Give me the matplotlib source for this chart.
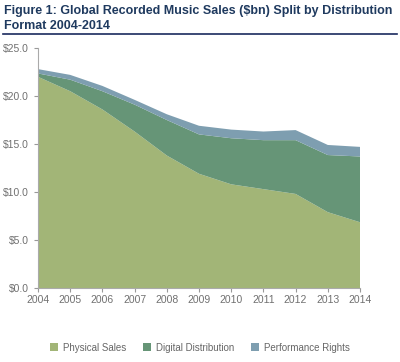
import numpy as np
import matplotlib.pyplot as plt
from matplotlib.lines import Line2D
from matplotlib.patches import Patch

plt.rcParams['font.family'] = ['Liberation Sans', 'DejaVu Sans']

years = [2004, 2005, 2006, 2007, 2008, 2009, 2010, 2011, 2012, 2013, 2014]
physical = [22.0, 20.5, 18.6, 16.3, 13.8, 11.9, 10.8, 10.3, 9.8, 7.9, 6.85]
digital = [0.35, 1.2, 1.9, 2.8, 3.7, 4.1, 4.8, 5.1, 5.6, 5.95, 6.85]
performance = [0.45, 0.5, 0.55, 0.5, 0.6, 0.9, 0.9, 0.9, 1.05, 1.05, 1.0]
series_names = ['Physical Sales', 'Digital Distribution', 'Performance Rights']
colors = ['#a2b577', '#669577', '#7e9eb0']

fig = plt.figure(figsize=(4.0, 3.62), dpi=100)
ax = fig.add_axes([0.095, 0.2044, 0.805, 0.663])

ax.stackplot(years, physical, digital, performance, colors=colors, linewidth=0)

ax.set_xlim(2004, 2014)
ax.set_ylim(0, 25)
ax.set_xticks(years)
ax.set_yticks(np.arange(0, 26, 5))
ax.set_yticklabels(['$%.1f' % v for v in np.arange(0, 26, 5)])
ax.tick_params(colors='#999999', labelcolor='#707070', labelsize=7.5, length=3, width=0.8)
ax.tick_params(axis='x', pad=2)
for s in ['top', 'right']:
    ax.spines[s].set_visible(False)
for s in ['left', 'bottom']:
    ax.spines[s].set_color('#aaaaaa')
    ax.spines[s].set_linewidth(0.8)

# title
fig.text(0.01, 0.985, 'Figure 1: Global Recorded Music Sales ($bn) Split by Distribution\nFormat 2004-2014',
         ha='left', va='top', fontsize=9, fontweight='bold', color='#1f3a5f', linespacing=1.3)
fig.add_artist(Line2D([0.008, 0.992], [0.905, 0.905], color='#1a2a5e', linewidth=1.2))

handles = [Patch(facecolor=c, edgecolor='none') for c in colors]
fig.legend(handles, series_names, loc='center', bbox_to_anchor=(0.5, 0.04), ncol=3,
           frameon=False, fontsize=7, labelcolor='#666666', handlelength=0.8, handleheight=0.8,
           columnspacing=1.75, handletextpad=0.5)

fig.savefig('out.png', dpi=100)
